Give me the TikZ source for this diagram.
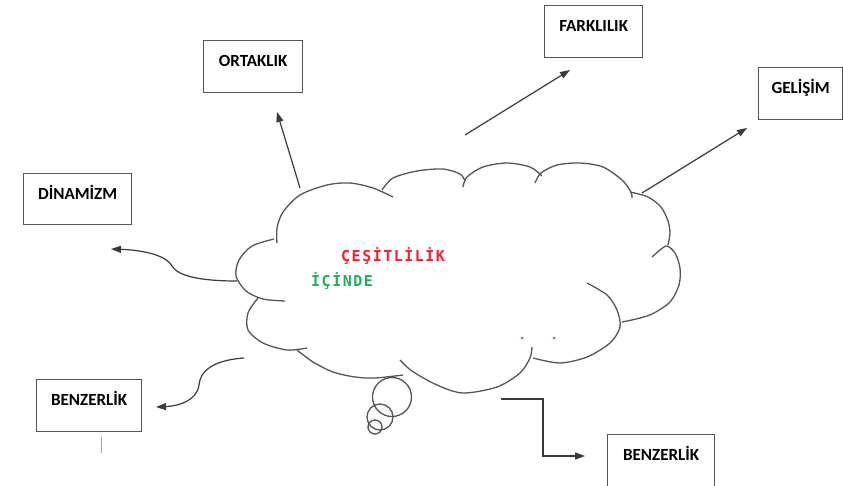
\documentclass[tikz,border=0pt]{standalone}
\usepackage{fontspec}
\setmainfont{Carlito}
\newfontfamily\cesitfont[LetterSpace=10]{DejaVu Sans Mono}
\usetikzlibrary{arrows.meta}
\definecolor{kenar}{HTML}{555555}
\definecolor{okrenk}{HTML}{3A3A3A}
\definecolor{kirmizi}{HTML}{FF1A2A}
\definecolor{yesil}{HTML}{1DB055}
\definecolor{mor}{HTML}{9B59D0}

\begin{document}
\begin{tikzpicture}[x=1pt,y=-1pt,
    kutu/.style={draw=kenar,line width=1.3pt,anchor=north west,inner xsep=0pt,inner ysep=0pt,
      text height=25.5pt,text depth=26.5pt,font=\fontsize{17}{20}\selectfont\bfseries},
    ok/.style={draw=okrenk,line width=1.2pt,-{Triangle[length=10pt,width=7pt]}},
    bulut/.style={draw=kenar,line width=1.3pt}]
    \useasboundingbox (0,0) rectangle (843,485);
    \clip (0,0) rectangle (843,485);

    % kutular
    \node[kutu,minimum width=99pt] (ortaklik) at (203,40) {ORTAKLIK};
    \node[kutu,minimum width=108pt,text depth=25.5pt] (dinamizm) at (23,173) {DİNAMİZM};
    \node[kutu,minimum width=98pt] (farklilik) at (544,5) {FARKLILIK};
    \node[kutu,minimum width=84pt] (gelisim) at (758,67) {GELİŞİM};
    \node[kutu,minimum width=105pt] (benzerlikA) at (36,379) {BENZERLİK};
    \node[kutu,minimum width=107pt] (benzerlikB) at (607,434) {BENZERLİK};
    \draw[gray!70,line width=1pt] ([shift={(12.5,5)}]benzerlikA.south) -- ++(0,16);

    % bulut
    \draw[bulut] plot[smooth] coordinates {(274,239) (252,246) (239,260) (236,276) (246,291) (263,299) (285,301)};
    \draw[bulut] plot[smooth] coordinates {(277,243) (277,228) (283,212) (300,195) (327,185) (350,183) (373,188) (393,197)};
    \draw[bulut] plot[smooth] coordinates {(382,190) (393,178) (417,171) (443,169) (460,174) (465,181)};
    \draw[bulut] plot[smooth] coordinates {(463,187) (467,177) (483,167) (507,163) (530,167) (542,176)};
    \draw[bulut] plot[smooth] coordinates {(535,183) (541,173) (557,165) (580,163) (603,167) (622,180) (631,192) (632,198)};
    \draw[bulut] plot[smooth] coordinates {(630,192) (648,197) (661,207) (668,221) (670,233) (668,245)};
    \draw[bulut] plot[smooth] coordinates {(652,257) (660,250) (667,246) (675,253) (680,268) (679,285) (670,302) (652,314) (636,319) (622,322)};
    \draw[bulut] plot[smooth] coordinates {(587,283) (607,295) (617,310) (620,327) (610,343) (587,357) (560,363) (533,358)};
    \draw[bulut] plot[smooth] coordinates {(532,347) (530,358) (520,373) (497,387) (463,393) (437,385) (412,371) (400,360)};
    \draw[bulut] plot[smooth] coordinates {(297,350) (313,362) (333,372) (355,377) (375,378) (403,375)};
    \draw[bulut] plot[smooth] coordinates {(258,298) (248,313) (248,330) (263,343) (287,350) (307,348)};
    \draw[bulut] (392,397) circle[radius=19.5pt];
    \draw[bulut] (380,417) circle[radius=13pt];
    \draw[bulut] (375,427) circle[radius=7pt];
    \fill[mor] (522,338) circle[radius=1.5pt];
    \fill[mor] (554,338) circle[radius=1.5pt];

    \node[anchor=base west,inner sep=0pt,text=kirmizi,font=\fontsize{15}{18}\selectfont\cesitfont\bfseries] (cesit) at (341,261) {ÇEŞİTLİLİK};
    \node[anchor=base west,inner sep=0pt,text=yesil,font=\fontsize{15}{18}\selectfont\cesitfont\bfseries] (icinde) at (311,286) {İÇİNDE};

    % oklar
    \coordinate (ortS) at (300,188);  \coordinate (ortT) at (277,112);
    \coordinate (farS) at (465,135);  \coordinate (farT) at (570,70);
    \coordinate (gelS) at (642,193);  \coordinate (gelT) at (747,128);
    \coordinate (dinS) at (237,281);  \coordinate (dinT) at (111,249);
    \coordinate (benS) at (244,358);  \coordinate (benT) at (156,407);
    \coordinate (elbS) at (501,399);  \coordinate (elbK) at (543,456);
    \coordinate (elbT) at (585,456);
    \draw[ok] (ortS) -- (ortT);
    \draw[ok] (farS) -- (farT);
    \draw[ok] (gelS) -- (gelT);
    \draw[ok] (dinS) .. controls (200,281) and (178,276) .. (172,266)
                     .. controls (165,254) and (140,250) .. (dinT);
    \draw[ok] (benS) .. controls (215,360) and (200,370) .. (199,385)
                     .. controls (197,400) and (180,406) .. (benT);
    \draw[ok] (elbS) -| (elbK) -- (elbT);
\end{tikzpicture}
\end{document}
